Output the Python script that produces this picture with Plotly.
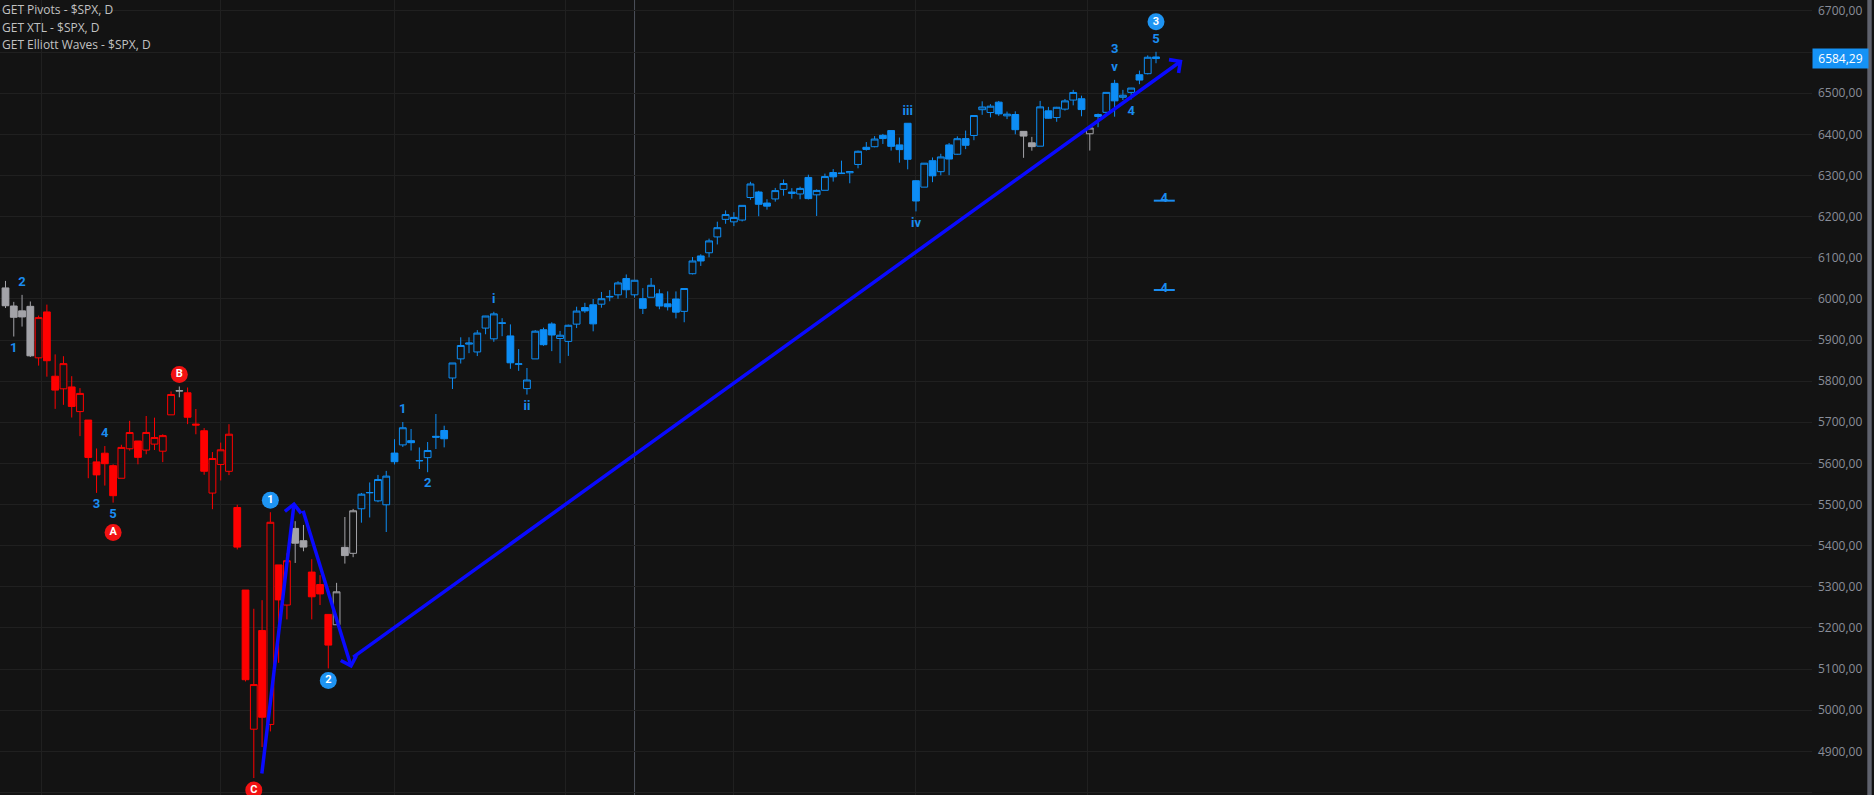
import numpy as np
import pandas as pd
import plotly.graph_objects as go

# ---------------- data ----------------
holidays = ["2025-04-18", "2025-05-26", "2025-06-19", "2025-07-04", "2025-09-01"]
trade_days = [d for d in pd.bdate_range("2025-02-24", "2025-09-12")
              if d.strftime("%Y-%m-%d") not in holidays]

open_ = [6026.7, 5982.7, 5970.9, 5981.9, 5856.7,
         5968.3, 5812.0, 5781.4, 5785.9, 5726.0, 5705.4, 5603.7, 5624.8, 5594.5, 5563.9,
         5635.6, 5654.5, 5632.4, 5646.9, 5629.7, 5718.1, 5775.9, 5771.7, 5695.6, 5679.4, 5527.9,
         5597.5, 5580.8, 5492.7, 5292.1, 4953.8, 5193.6, 4965.3, 5353.2, 5255.6, 5442.0,
         5412.0, 5335.8, 5305.5, 5232.9, 5207.7, 5395.9, 5381.4, 5489.7, 5529.2, 5508.9, 5499.4,
         5625.1, 5645.0, 5655.3, 5606.0, 5614.0, 5665.9, 5680.0, 5807.7, 5854.2, 5890.0, 5871.0,
         5929.0, 5902.9, 5942.0, 5910.0, 5841.0, 5781.9, 5854.1, 5925.0, 5939.0, 5903.7,
         5896.7, 5938.6, 5978.9, 5985.7, 5987.1, 6004.6, 6009.9, 6049.4, 6009.9, 6000.6, 6004.0,
         6012.2, 5987.9, 5999.7, 5969.7, 6061.2, 6104.4, 6112.1, 6150.7, 6193.4,
         6187.3, 6191.7, 6246.5, 6259.8, 6233.0, 6243.0, 6266.3, 6256.3, 6255.1, 6295.3, 6253.0,
         6264.0, 6307.2, 6304.7, 6306.6, 6326.9, 6368.6, 6370.0, 6397.7, 6409.2, 6374.4, 6427.0,
         6287.3, 6271.7, 6336.0, 6309.3, 6374.4, 6351.7, 6389.7, 6397.4, 6460.0, 6453.1, 6478.3,
         6445.0, 6448.3, 6407.3, 6379.4, 6371.3, 6457.2, 6440.9, 6461.4, 6483.4, 6486.6,
         6401.5, 6443.4, 6453.6, 6524.0, 6490.2, 6502.0, 6545.0, 6547.6, 6588.2]
high = [6043.7, 5992.7, 6009.8, 5993.7, 5959.4,
        5986.1, 5865.1, 5860.6, 5812.1, 5783.0, 5705.4, 5636.3, 5642.2, 5597.8, 5645.3,
        5703.5, 5654.5, 5715.3, 5711.2, 5670.8, 5775.1, 5787.0, 5784.6, 5732.3, 5685.9, 5627.6,
        5650.6, 5695.3, 5499.5, 5292.1, 5246.6, 5267.5, 5481.3, 5353.2, 5381.5, 5459.5,
        5450.4, 5367.2, 5328.3, 5232.9, 5309.6, 5469.7, 5489.4, 5528.1, 5553.7, 5572.0, 5581.8,
        5658.9, 5700.7, 5683.7, 5638.9, 5652.0, 5720.1, 5691.7, 5844.2, 5906.6, 5906.6, 5924.0,
        5958.6, 5968.6, 5953.1, 5938.0, 5878.0, 5832.0, 5924.0, 5930.0, 5943.1, 5922.1,
        5937.4, 5981.0, 5990.5, 5999.7, 6016.9, 6021.3, 6043.0, 6059.4, 6045.4, 6026.2, 6050.8,
        6023.3, 6018.3, 6018.2, 6025.8, 6101.8, 6108.5, 6146.5, 6187.7, 6215.1,
        6210.8, 6227.6, 6284.7, 6262.8, 6242.4, 6269.8, 6290.2, 6269.2, 6272.7, 6302.0, 6266.2,
        6304.6, 6315.6, 6336.1, 6310.1, 6360.6, 6381.3, 6395.8, 6401.1, 6409.3, 6392.3, 6427.0,
        6288.3, 6329.6, 6343.9, 6352.8, 6379.1, 6395.2, 6409.2, 6446.3, 6480.3, 6473.4, 6481.3,
        6455.4, 6456.0, 6407.3, 6393.9, 6481.4, 6466.9, 6466.9, 6486.0, 6508.2, 6494.1,
        6416.5, 6450.7, 6502.1, 6532.6, 6508.2, 6513.0, 6555.0, 6592.0, 6600.7]
low = [5977.8, 5908.5, 5932.7, 5858.8, 5837.7,
       5810.9, 5732.6, 5742.4, 5711.6, 5666.3, 5564.0, 5528.4, 5546.1, 5504.7, 5563.9,
       5631.1, 5597.8, 5622.2, 5632.6, 5603.1, 5718.1, 5760.7, 5695.5, 5670.9, 5572.4, 5488.7,
       5558.5, 5571.5, 5390.8, 5069.9, 4835.0, 4910.4, 4948.4, 5115.3, 5220.8, 5358.0,
       5386.4, 5220.8, 5255.6, 5101.6, 5207.7, 5356.4, 5372.0, 5455.9, 5468.6, 5505.7, 5433.2,
       5597.4, 5640.0, 5631.4, 5586.4, 5578.6, 5635.0, 5639.0, 5781.0, 5842.8, 5868.0, 5861.0,
       5914.0, 5895.7, 5909.3, 5830.0, 5825.0, 5767.4, 5854.1, 5886.0, 5873.0, 5843.7,
       5861.4, 5929.0, 5966.1, 5921.1, 5978.6, 5994.2, 6000.3, 6002.3, 6003.9, 5963.2, 6004.0,
       5974.8, 5971.9, 5952.6, 5943.2, 6059.5, 6080.1, 6101.2, 6132.4, 6182.6,
       6177.0, 6188.3, 6241.0, 6201.0, 6217.0, 6236.4, 6251.0, 6243.6, 6242.2, 6241.8, 6201.6,
       6263.9, 6285.2, 6303.5, 6281.1, 6317.5, 6360.6, 6368.5, 6376.7, 6360.6, 6331.2, 6315.0,
       6212.7, 6271.7, 6283.8, 6300.5, 6300.8, 6350.5, 6364.1, 6385.8, 6447.6, 6441.2, 6445.0,
       6437.1, 6400.2, 6343.0, 6360.3, 6371.3, 6438.4, 6430.6, 6457.8, 6470.6, 6444.0,
       6360.6, 6417.4, 6446.0, 6443.0, 6483.6, 6485.0, 6522.0, 6545.8, 6572.9]
close = [5983.3, 5955.3, 5956.1, 5861.6, 5954.5,
         5849.7, 5778.2, 5842.6, 5738.5, 5770.2, 5614.6, 5572.1, 5599.3, 5521.5, 5638.9,
         5675.1, 5614.7, 5675.3, 5662.9, 5667.6, 5767.6, 5776.7, 5712.2, 5693.3, 5580.9, 5611.9,
         5633.1, 5671.0, 5396.5, 5074.1, 5062.3, 4982.8, 5456.9, 5268.1, 5363.4, 5406.0,
         5396.6, 5275.7, 5282.7, 5158.2, 5287.8, 5375.9, 5484.8, 5525.2, 5528.8, 5560.8, 5569.1,
         5604.1, 5686.7, 5650.4, 5606.9, 5631.3, 5663.9, 5659.9, 5844.2, 5886.6, 5892.6, 5916.9,
         5958.4, 5963.6, 5940.5, 5844.6, 5842.0, 5802.8, 5921.5, 5888.6, 5912.2, 5911.7,
         5935.9, 5970.4, 5970.8, 5939.3, 6000.4, 6005.9, 6038.8, 6022.2, 6045.3, 5977.0, 6033.1,
         5982.7, 5980.9, 5967.8, 6025.2, 6092.2, 6092.2, 6141.0, 6173.1, 6205.0,
         6198.0, 6227.4, 6279.4, 6230.0, 6225.5, 6263.3, 6280.5, 6259.8, 6268.6, 6243.8, 6263.7,
         6297.4, 6296.8, 6305.6, 6309.6, 6358.9, 6363.4, 6388.6, 6389.8, 6370.9, 6362.9, 6339.4,
         6238.0, 6329.9, 6299.2, 6345.1, 6340.0, 6389.5, 6373.5, 6445.8, 6466.6, 6468.5, 6449.8,
         6449.2, 6411.4, 6395.8, 6370.2, 6466.9, 6439.3, 6465.9, 6481.4, 6501.9, 6460.3,
         6415.5, 6448.3, 6502.1, 6481.5, 6495.2, 6512.6, 6532.0, 6587.5, 6584.29]

# wave phase of each bar (drives candle colour)
gray_bars = [0, 1, 2, 3, 21, 35, 36, 40, 41, 42, 123, 124, 131]
red_bars = list(range(4, 21)) + list(range(22, 35)) + [37, 38, 39]

# Elliott wave labels: (bar, text, side, stack level)
wave_labels = [(1, "1", "below", 1), (2, "2", "above", 1),
               (11, "3", "below", 1), (12, "4", "above", 1), (13, "5", "below", 1),
               (48, "1", "above", 1), (51, "2", "below", 1),
               (59, "i", "above", 1), (63, "ii", "below", 1),
               (109, "iii", "above", 1), (110, "iv", "below", 1),
               (134, "v", "above", 1), (134, "3", "above", 2),
               (136, "4", "below", 1), (139, "5", "above", 1)]
# circled degree labels: (bar, text, side, stack level, colour kind)
circle_labels = [(13, "A", "below", 2, "red"), (21, "B", "above", 1, "red"),
                 (30, "C", "below", 1, "red"), (32, "1", "above", 1, "blue"),
                 (39, "2", "below", 1, "blue"), (139, "3", "above", 2, "blue")]
# projected wave-4 targets on the next bar
wave4_bar = 140
wave4_targets = [6238.8, 6021.6]
# drawn arrows: (bar0, price0, bar1, price1)
arrows = [(30.95, 4842.4, 34.89, 5506.9),
          (35.9, 5488.5, 41.83, 5101.9),
          (41.83, 5126.2, 142.2, 6580.8)]

headers = ["GET Pivots - $SPX, D", "GET XTL - $SPX, D", "GET Elliott Waves - $SPX, D"]
y_ticks = list(range(4800, 6701, 100))
highlight_bar = 76

# ---------------- style ----------------
W, H = 1874, 795
PLOT_W = 1812
BAR_PX = 8.277
FIRST_PX = 5.5
Y_MIN, Y_MAX = 4793.8, 6726.7
PTS_PER_PX = (Y_MAX - Y_MIN) / H

BG = "#131313"
GRID = "#202020"
RED = "#ff0000"
BLUE = "#0d8df5"
GRAY = "#a3a3a8"
LABEL_BLUE = "#1a8cf0"
CIRCLE = {"red": "#f21212", "blue": "#1e94f2"}
ARROW = "#0a0aff"

n = len(close)
idx = list(range(n))
blue_bars = [i for i in idx if i not in gray_bars and i not in red_bars]

fig = go.Figure()

for bars, col in [(gray_bars, GRAY), (red_bars, RED), (blue_bars, BLUE)]:
    fig.add_trace(go.Candlestick(
        x=bars,
        open=[open_[i] for i in bars], high=[high[i] for i in bars],
        low=[low[i] for i in bars], close=[close[i] for i in bars],
        increasing=dict(line=dict(color=col, width=1), fillcolor=BG),
        decreasing=dict(line=dict(color=col, width=1), fillcolor=col),
        whiskerwidth=0, showlegend=False, hoverinfo="skip"))

OFF = {1: 12, 2: 30}


def label_y(bar, side, level):
    if side == "above":
        return high[bar] + OFF[level] * PTS_PER_PX
    return low[bar] - OFF[level] * PTS_PER_PX


fig.add_trace(go.Scatter(
    x=[b for b, t, s, l in wave_labels],
    y=[label_y(b, s, l) for b, t, s, l in wave_labels],
    text=[t for b, t, s, l in wave_labels],
    mode="text", textposition="middle center",
    textfont=dict(family="Roboto", size=13, color=LABEL_BLUE, weight="bold"),
    showlegend=False, hoverinfo="skip", cliponaxis=False))

for kind in ["red", "blue"]:
    sel = [c for c in circle_labels if c[4] == kind]
    fig.add_trace(go.Scatter(
        x=[c[0] for c in sel],
        y=[label_y(c[0], c[2], c[3]) for c in sel],
        text=[c[1] for c in sel],
        mode="markers+text", textposition="middle center",
        marker=dict(size=17, color=CIRCLE[kind], line=dict(width=0)),
        textfont=dict(family="Roboto", size=11, color="white", weight="bold"),
        showlegend=False, hoverinfo="skip", cliponaxis=False))

fig.add_trace(go.Scatter(
    x=[wave4_bar] * len(wave4_targets), y=wave4_targets,
    mode="markers", marker=dict(symbol="line-ew", size=15,
                                line=dict(width=2, color=LABEL_BLUE)),
    showlegend=False, hoverinfo="skip"))
fig.add_trace(go.Scatter(
    x=[wave4_bar] * len(wave4_targets),
    y=[p + 1.5 * PTS_PER_PX for p in wave4_targets],
    text=["4"] * len(wave4_targets), mode="text", textposition="middle center",
    textfont=dict(family="Roboto", size=13, color=LABEL_BLUE, weight="bold"),
    showlegend=False, hoverinfo="skip"))

for b0, p0, b1, p1 in arrows:
    fig.add_annotation(x=b1, y=p1, ax=b0, ay=p0, xref="x", yref="y",
                       axref="x", ayref="y", text="", showarrow=True,
                       arrowhead=4, arrowsize=0.9, arrowwidth=3.5,
                       arrowcolor=ARROW, standoff=0, startstandoff=0)

for k, h in enumerate(headers):
    fig.add_annotation(x=0, y=1 - (10 + 17.5 * k) / H, xref="paper", yref="paper",
                       xanchor="left", yanchor="middle", text=h, showarrow=False,
                       xshift=0, font=dict(family="Open Sans", size=12, color="#c2c2c2"))

fig.add_annotation(x=1, y=close[-1], xref="paper", yref="y", xanchor="left",
                   yanchor="middle", text=f"{close[-1]:.2f}".replace(".", ","),
                   showarrow=False, bgcolor="#1592f5", width=51, height=15,
                   borderpad=2, font=dict(family="Open Sans", size=12, color="white"))

# month grid lines at calendar month starts (interpolated over non-trading days)
ords = [d.toordinal() for d in trade_days]
month_starts = pd.date_range("2025-03-01", "2025-09-01", freq="MS")
month_pos = [float(np.interp(m.toordinal(), ords, idx)) for m in month_starts]

# tick labels hidden where the last-price tag covers them
tick_text = ["" if abs(v - close[-1]) < 20 * PTS_PER_PX else f"{v:.2f}".replace(".", ",")
             for v in y_ticks]

fig.add_shape(type="line", xref="x", yref="paper", x0=highlight_bar, x1=highlight_bar,
              y0=0, y1=1, line=dict(color="#4d515c", width=1), layer="below")
fig.add_shape(type="rect", xref="paper", yref="paper", x0=1867.3 / PLOT_W,
              x1=1871.7 / PLOT_W, y0=0, y1=1, fillcolor="#5f626d",
              line=dict(width=0))

x0 = -FIRST_PX / BAR_PX
x1 = x0 + PLOT_W / BAR_PX
fig.update_layout(
    width=W, height=H, paper_bgcolor=BG, plot_bgcolor=BG,
    margin=dict(l=0, r=W - PLOT_W, t=0, b=0),
    boxgap=0.18, boxgroupgap=0, hovermode=False,
    xaxis=dict(range=[x0, x1], tickvals=month_pos, showticklabels=False,
               showgrid=True, gridcolor=GRID, gridwidth=1, zeroline=False,
               rangeslider=dict(visible=False), fixedrange=True, ticks=""),
    yaxis=dict(range=[Y_MIN, Y_MAX], side="right", tickvals=y_ticks,
               ticktext=tick_text,
               showgrid=True, gridcolor=GRID, gridwidth=1, zeroline=False,
               tickfont=dict(family="Open Sans", size=12, color="#8a8e99"),
               ticks="", ticklabelstandoff=5, fixedrange=True),
)

fig.write_html("out.html", config={"displayModeBar": False},
               post_script="document.body.style.margin='0';"
                           "document.body.style.overflow='hidden';"
                           "document.body.style.background='#131313';")
